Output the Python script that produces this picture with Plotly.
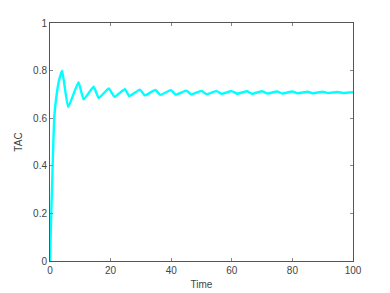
import plotly.graph_objects as go

time = [0, 1.4, 2.0, 3.0, 4.0, 6.0, 9.4, 11.1, 14.4, 16.1, 19.4, 21.3, 24.7, 26.2,
        29.7, 31.3, 34.8, 36.4, 39.9, 41.5, 45.0, 46.6, 50.0, 51.6, 55.0, 56.7,
        60.0, 61.7, 65.0, 66.7, 70.0, 71.7, 75.0, 76.7, 80.0, 81.7, 85.0, 86.7,
        90.0, 91.7, 95.0, 96.7, 100.0]
tac = [0, 0.60, 0.68, 0.76, 0.80, 0.647, 0.751, 0.679, 0.732, 0.685, 0.725, 0.690,
       0.722, 0.693, 0.720, 0.696, 0.719, 0.698, 0.718, 0.699, 0.716, 0.700,
       0.715, 0.701, 0.714, 0.702, 0.714, 0.703, 0.713, 0.703, 0.713, 0.704,
       0.712, 0.704, 0.712, 0.705, 0.711, 0.705, 0.711, 0.706, 0.710, 0.706, 0.709]

x_ticks = [0, 20, 40, 60, 80, 100]
y_ticks = [0, 0.2, 0.4, 0.6, 0.8, 1]

fig = go.Figure()
fig.add_trace(go.Scatter(x=time, y=tac, mode="lines",
                         line=dict(color="#00FFFF", width=2.4, shape="spline", smoothing=0.4)))

axis_common = dict(showgrid=False, zeroline=False, showline=True, linecolor="#555555",
                   linewidth=1, mirror="ticks", ticks="inside", ticklen=3,
                   tickcolor="#888888", tickfont=dict(size=10, color="#444444"))

fig.update_layout(
    width=390, height=293,
    margin=dict(l=42, r=45, t=9, b=40),
    paper_bgcolor="white", plot_bgcolor="white",
    font=dict(family="Liberation Sans, Arial, sans-serif", size=10, color="#444444"),
    showlegend=False,
    xaxis=dict(range=[0, 100], tickvals=x_ticks,
               title=dict(text="Time", standoff=5, font=dict(size=10)), **axis_common),
    yaxis=dict(range=[0, 1], tickvals=y_ticks,
               title=dict(text="TAC", standoff=8, font=dict(size=10)), **axis_common),
)

fig.write_html("out.html")
